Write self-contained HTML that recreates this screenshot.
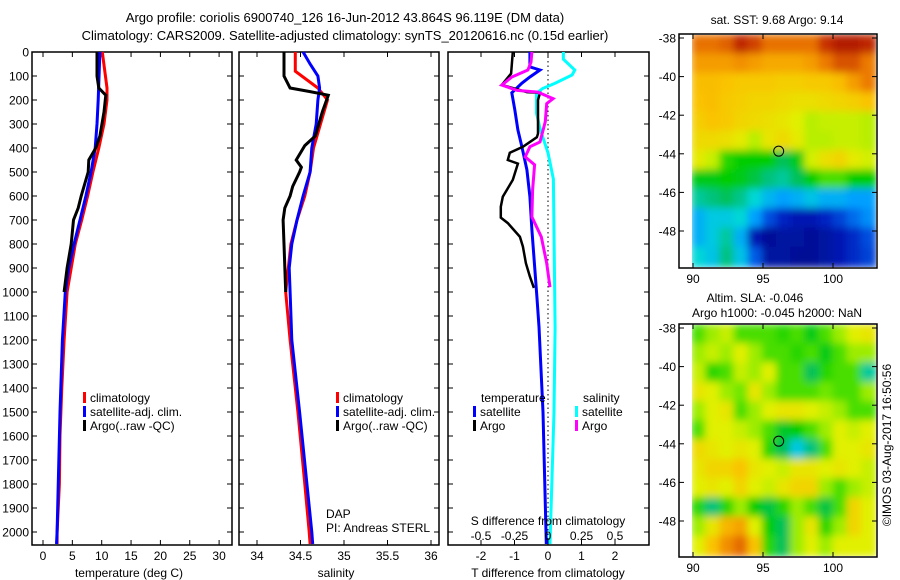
<!DOCTYPE html>
<html><head><meta charset="utf-8"><style>
body{margin:0;background:#fff;}
svg{display:block;font-family:"Liberation Sans",sans-serif;}
</style></head><body>
<svg id="fig" width="900" height="580" viewBox="0 0 900 580">
<defs>
<filter id="blur" x="-5%" y="-5%" width="110%" height="110%"><feGaussianBlur stdDeviation="4"/></filter>
<clipPath id="clipTop"><rect x="692" y="35" width="184" height="232"/></clipPath>
<clipPath id="clipBot"><rect x="692" y="325" width="184" height="231"/></clipPath>
</defs>
<text x="345" y="22" font-size="13" text-anchor="middle">Argo profile: coriolis 6900740_126 16-Jun-2012 43.864S 96.119E (DM data)</text>
<text x="345" y="40" font-size="13" text-anchor="middle">Climatology: CARS2009. Satellite-adjusted climatology: synTS_20120616.nc (0.15d earlier)</text>
<g id="p1"></g>
<g id="p2"></g>
<g id="p3"></g>
<g id="m1"></g>
<g id="m2"></g>
<text transform="translate(891,445) rotate(-90)" font-size="12" text-anchor="middle">©IMOS 03-Aug-2017 16:50:56</text>
</svg>
<script>
// ---- data ----
const tickDepths=[0,100,200,300,400,500,600,700,800,900,1000,1100,1200,1300,1400,1500,1600,1700,1800,1900,2000];
const tempTicks=[0,5,10,15,20,25,30];
const salTicks=[34,34.5,35,35.5,36];
const tdiffTicks=[-2,-1,0,1,2];
const sdiffTicks=[-0.5,-0.25,0,0.25,0.5];
const latTicks=[-38,-40,-42,-44,-46,-48];
const lonTicks=[90,95,100];

const tClimDepth=[0,150,200,300,400,500,600,700,800,900,1000,1200,1400,1600,1800,2000,2050];
const tClimVal=[10.1,10.9,10.9,10.4,9.5,8.5,7.6,6.6,5.5,4.8,4.1,3.6,3.2,2.9,2.8,2.4,2.4];
const tSatDepth=[0,200,300,400,500,600,700,800,900,1000,1200,1500,2000,2050];
const tSatVal=[9.7,9.4,9.2,8.9,8.2,7.3,6.3,5.3,4.4,3.8,3.3,2.9,2.4,2.3];
const tArgoDepth=[0,100,150,180,250,350,400,450,500,600,650,700,800,900,1000];
const tArgoVal=[9.2,9.2,9.5,10.7,10.4,9.7,9.0,7.8,7.7,6.5,6.0,5.2,4.8,4.1,3.6];

const sClimDepth=[0,80,150,200,300,400,500,600,700,800,900,1000,1200,1500,1800,2000,2050];
const sClimVal=[34.44,34.44,34.70,34.81,34.73,34.65,34.61,34.55,34.46,34.39,34.36,34.33,34.38,34.47,34.55,34.60,34.61];
const sSatDepth=[0,50,100,150,200,300,400,500,600,700,800,900,1000,1200,1500,2000,2050];
const sSatVal=[34.53,34.61,34.70,34.72,34.70,34.68,34.63,34.61,34.53,34.46,34.40,34.37,34.38,34.40,34.49,34.63,34.64];
const sArgoDepth=[0,100,150,165,180,250,350,390,450,480,500,560,600,650,700,800,1000];
const sArgoVal=[34.31,34.31,34.38,34.61,34.82,34.75,34.67,34.55,34.45,34.51,34.49,34.41,34.38,34.32,34.30,34.31,34.33];

const dTArgoDepth=[0,90,137,167,170,200,340,355,395,420,450,465,533,603,645,690,713,770,811,880,936,983];
const dTArgoVal=[-1.05,-1.1,-1.38,-0.63,-0.24,-0.3,-0.3,-0.33,-0.75,-1.14,-1.2,-0.9,-1.05,-1.35,-1.41,-1.41,-1.2,-0.84,-0.75,-0.66,-0.54,-0.42];
const dTSatDepth=[0,62,75,104,130,170,241,325,395,491,603,741,1020,1145,1500,2000,2050];
const dTSatVal=[-0.54,-0.54,-0.24,-0.54,-0.78,-1.08,-0.99,-0.9,-0.78,-0.63,-0.54,-0.48,-0.33,-0.27,-0.15,-0.06,-0.05];
const dSArgoDepth=[0,42,75,104,138,160,167,194,215,290,375,395,437,470,575,687,770,880,980];
const dSArgoVal=[-0.12,-0.127,-0.15,-0.27,-0.345,-0.23,-0.077,0.038,-0.01,-0.02,-0.06,-0.135,-0.17,-0.1,-0.115,-0.12,-0.05,-0.01,0.015];
const dSSatDepth=[0,30,75,96,130,152,172,255,325,420,530,1150,1500,2050];
const dSSatVal=[0.115,0.115,0.2,0.18,0.053,-0.04,-0.086,-0.086,-0.057,0,0.04,0.053,0.045,0.015];

const sstGrid=[
[0.84,0.84,0.86,0.94,0.9,0.84,0.84,0.84,0.84,0.92,0.96,0.96,0.94],
[0.78,0.78,0.78,0.8,0.78,0.76,0.76,0.76,0.78,0.83,0.88,0.88,0.83],
[0.73,0.73,0.72,0.71,0.71,0.71,0.7,0.7,0.71,0.71,0.73,0.78,0.83],
[0.72,0.73,0.71,0.7,0.69,0.69,0.68,0.67,0.67,0.68,0.69,0.7,0.72],
[0.7,0.72,0.71,0.69,0.68,0.67,0.66,0.64,0.61,0.62,0.62,0.62,0.61],
[0.68,0.68,0.67,0.65,0.61,0.66,0.68,0.65,0.61,0.61,0.62,0.62,0.61],
[0.65,0.62,0.52,0.5,0.5,0.5,0.46,0.49,0.63,0.67,0.69,0.65,0.63],
[0.49,0.49,0.5,0.49,0.47,0.44,0.42,0.46,0.5,0.54,0.54,0.5,0.5],
[0.42,0.44,0.46,0.43,0.38,0.33,0.3,0.32,0.35,0.32,0.32,0.3,0.3],
[0.32,0.36,0.36,0.38,0.3,0.2,0.13,0.1,0.1,0.13,0.18,0.24,0.28],
[0.32,0.36,0.42,0.32,0.1,0.05,0.07,0.07,0.05,0.07,0.1,0.14,0.2],
[0.38,0.35,0.44,0.35,0.22,0.07,0.07,0.05,0.05,0.07,0.1,0.14,0.18]];
const slaGrid=[
[0.54,0.59,0.62,0.54,0.54,0.54,0.52,0.54,0.49,0.54,0.59,0.64,0.66],
[0.59,0.62,0.59,0.64,0.59,0.54,0.54,0.52,0.54,0.49,0.54,0.59,0.59],
[0.62,0.52,0.54,0.62,0.59,0.64,0.54,0.54,0.46,0.52,0.54,0.54,0.42],
[0.66,0.64,0.59,0.56,0.66,0.59,0.54,0.54,0.54,0.56,0.54,0.54,0.59],
[0.59,0.64,0.66,0.54,0.59,0.64,0.66,0.66,0.64,0.62,0.59,0.54,0.54],
[0.54,0.64,0.64,0.62,0.59,0.54,0.48,0.5,0.54,0.59,0.64,0.62,0.64],
[0.68,0.66,0.64,0.66,0.64,0.52,0.46,0.36,0.44,0.54,0.64,0.64,0.66],
[0.66,0.69,0.69,0.72,0.66,0.64,0.62,0.66,0.66,0.64,0.66,0.64,0.62],
[0.64,0.66,0.64,0.69,0.64,0.62,0.66,0.69,0.69,0.59,0.54,0.59,0.62],
[0.52,0.44,0.52,0.59,0.5,0.47,0.52,0.59,0.54,0.47,0.54,0.69,0.64],
[0.59,0.66,0.74,0.77,0.64,0.5,0.46,0.59,0.66,0.52,0.59,0.69,0.64],
[0.64,0.72,0.8,0.85,0.72,0.52,0.46,0.59,0.64,0.59,0.64,0.64,0.64]];
const argoLon=96.119, argoLat=-43.864;

// ---- drawing ----
const NS='http://www.w3.org/2000/svg';
function mk(tag,attrs,parent,txt){const e=document.createElementNS(NS,tag);for(const k in attrs)e.setAttribute(k,attrs[k]);if(txt!==undefined)e.textContent=txt;parent.appendChild(e);return e;}
const yD=d=>52+d*0.24;
const TOP=52,BOT=545;

function panel(g,x0,x1,xf,ticks,fmt,yLabels){
  const r=mk('rect',{x:x0,y:TOP,width:x1-x0,height:BOT-TOP,fill:'none',stroke:'#000','stroke-width':1.5},g);
  
  tickDepths.forEach(d=>{const y=yD(d);
    mk('line',{x1:x0,x2:x0+5,y1:y,y2:y,stroke:'#000'},g);mk('line',{x1:x1-5,x2:x1,y1:y,y2:y,stroke:'#000'},g);
    if(yLabels){const t=mk('text',{x:29,y:y+4.5,'font-size':12,'text-anchor':'end'},g,String(d));
      }});
  ticks.forEach(v=>{const x=xf(v);
    mk('line',{x1:x,x2:x,y1:TOP,y2:TOP+5,stroke:'#000'},g);mk('line',{x1:x,x2:x,y1:BOT-5,y2:BOT,stroke:'#000'},g);
    if(fmt){const t=mk('text',{x:x,y:560,'font-size':12,'text-anchor':'middle'},g,fmt(v));
      }});
}
function line(g,xf,ds,vs,col,name,w){
  const pts=ds.map((d,i)=>xf(vs[i]).toFixed(1)+','+yD(d).toFixed(1)).join(' ');
  const p=mk('polyline',{points:pts,fill:'none',stroke:col,'stroke-width':w||3},g);
  
}
function legend(g,x,y,col,label,name){
  mk('rect',{x:x,y:y-10,width:3,height:11,fill:col},g);
  const t=mk('text',{x:x+7,y:y,'font-size':12},g,label);
  
}
function txt(g,x,y,s,name,anchor){const t=mk('text',{x:x,y:y,'font-size':12,'text-anchor':anchor||'start'},g,s);
  return t;}

// Panel 1
const p1=document.getElementById('p1');
const xT=v=>43+v*5.87;
panel(p1,32,232,xT,tempTicks,v=>String(v),true);
line(p1,xT,tClimDepth,tClimVal,'#f00','temp-climatology-line');
line(p1,xT,tSatDepth,tSatVal,'#00f','temp-satellite-line');
line(p1,xT,tArgoDepth,tArgoVal,'#000','temp-argo-line');
legend(p1,83,402,'#f00','climatology','legend-climatology');
legend(p1,83,416,'#00f','satellite-adj. clim.','legend-satellite');
legend(p1,83,430,'#000','Argo(..raw -QC)','legend-argo');
txt(p1,129,577,'temperature (deg C)','x-axis-title-temperature','middle');

// Panel 2
const p2=document.getElementById('p2');
const xS=v=>257+(v-34)*87;
panel(p2,239,439,xS,salTicks,v=>String(v),false);
line(p2,xS,sClimDepth,sClimVal,'#f00','sal-climatology-line');
line(p2,xS,sSatDepth,sSatVal,'#00f','sal-satellite-line');
line(p2,xS,sArgoDepth,sArgoVal,'#000','sal-argo-line');
legend(p2,336,402,'#f00','climatology','legend-climatology');
legend(p2,336,416,'#00f','satellite-adj. clim.','legend-satellite');
legend(p2,336,430,'#000','Argo(..raw -QC)','legend-argo');
txt(p2,326,518,'DAP','dap-label');
txt(p2,326,532,'PI: Andreas STERL','pi-label');
txt(p2,336,577,'salinity','x-axis-title-salinity','middle');

// Panel 3
const p3=document.getElementById('p3');
const xdT=v=>548+v*33.5;
const xdS=v=>548+v*134;
panel(p3,448,649,xdT,tdiffTicks,v=>String(v),false);
const z=mk('line',{x1:548,x2:548,y1:TOP,y2:BOT,stroke:'#000','stroke-dasharray':'1.5,3'},p3);

line(p3,xdS,dSSatDepth,dSSatVal,'#0ff','sdiff-satellite-line');
line(p3,xdT,dTSatDepth,dTSatVal,'#00f','tdiff-satellite-line');
line(p3,xdT,dTArgoDepth,dTArgoVal,'#000','tdiff-argo-line',2.5);
line(p3,xdS,dSArgoDepth,dSArgoVal,'#f0f','sdiff-argo-line');
txt(p3,481,402,'temperature','legend-temperature-heading');
txt(p3,583,402,'salinity','legend-salinity-heading');
legend(p3,473,416,'#00f','satellite','legend-t-satellite');
legend(p3,473,430,'#000','Argo','legend-t-argo');
legend(p3,575,416,'#0ff','satellite','legend-s-satellite');
legend(p3,575,430,'#f0f','Argo','legend-s-argo');
txt(p3,548,525,'S difference from climatology','s-axis-title','middle');
sdiffTicks.forEach(v=>{txt(p3,xdS(v),540,String(v),'s-tick-label','middle');});
txt(p3,548,577,'T difference from climatology','t-axis-title','middle');

// colormap (stops resembling reference)
const cmapStops=[[0,[0,0,120]],[0.12,[0,30,190]],[0.22,[0,90,230]],[0.3,[0,160,255]],[0.38,[0,215,215]],[0.45,[0,190,110]],[0.5,[0,205,0]],[0.57,[130,235,0]],[0.64,[225,240,0]],[0.72,[250,195,0]],[0.82,[240,130,0]],[0.92,[200,50,0]],[1,[160,10,0]]];
function cmap(v){v=Math.max(0,Math.min(1,v));
  for(let i=1;i<cmapStops.length;i++){const a=cmapStops[i-1],b=cmapStops[i];
    if(v<=b[0]){const t=(v-a[0])/(b[0]-a[0]);const c=a[1].map((x,k)=>Math.round(x+(b[1][k]-x)*t));return `rgb(${c[0]},${c[1]},${c[2]})`;}}
  return 'rgb(160,10,0)';}

function map(g,grid,y0,latTop,clip){
  const lonX=l=>693+(l-90)*14;
  const latY=l=>latTop+(-38-l)*19.3;
  const cw=184/13, ch=(clip==='clipTop'?232:231)/12;
  const cg=mk('g',{'clip-path':'url(#'+clip+')'},g);
  const ig=mk('g',{filter:'url(#blur)'},cg);
  
  grid.forEach((row,i)=>row.forEach((v,j)=>{
    const r=mk('rect',{x:692+j*cw-1,y:y0+i*ch-1,width:cw+2,height:ch+2,fill:cmap(v)},ig);
    
  }));
  const b=mk('rect',{x:679,y:y0-1,width:198,height:ch*12+2,fill:'none',stroke:'#000','stroke-width':1.5},g);
  
  mk('rect',{x:680,y:y0,width:12,height:ch*12,fill:'#fff'},g);
  latTicks.forEach(l=>{const y=latY(l);
    mk('line',{x1:679,x2:684,y1:y,y2:y,stroke:'#000'},g);mk('line',{x1:872,x2:877,y1:y,y2:y,stroke:'#000'},g);
    txt(g,676,y+4.5,String(l),'lat-tick-label','end');});
  const yb=y0+ch*12+1;
  lonTicks.forEach(l=>{const x=lonX(l);
    mk('line',{x1:x,x2:x,y1:y0-1,y2:y0+4,stroke:'#000'},g);mk('line',{x1:x,x2:x,y1:yb-5,y2:yb,stroke:'#000'},g);
    txt(g,x,yb+15,String(l),'lon-tick-label','middle');});
  const c=mk('circle',{cx:lonX(argoLon),cy:latY(argoLat),r:5,fill:'none',stroke:'#000','stroke-width':1},g);
  
}
const m1=document.getElementById('m1');
map(m1,sstGrid,35,38,'clipTop');
txt(m1,777,24,'sat. SST: 9.68 Argo: 9.14','sst-map-title','middle');
const m2=document.getElementById('m2');
map(m2,slaGrid,325,328,'clipBot');
txt(m2,755,302,'Altim. SLA: -0.046','sla-map-title','middle');
txt(m2,777,317,'Argo h1000: -0.045 h2000: NaN','sla-map-subtitle','middle');
</script>
</body></html>
